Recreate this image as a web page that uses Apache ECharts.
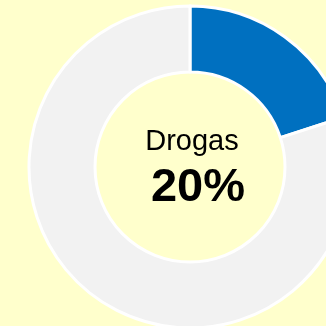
<!DOCTYPE html>
<html><head><meta charset="utf-8">
<script src="https://cdn.jsdelivr.net/npm/echarts@6/dist/echarts.min.js"></script>
<style>html,body{margin:0;padding:0;background:#FFFFCC;}#c{width:326px;height:326px;}</style>
</head><body><div id="c"></div>
<script>
const categories = ['Drogas', 'Resto'];
const values = [20, 80];
const centerLabel = 'Drogas';
const centerValue = '20%';

const chart = echarts.init(document.getElementById('c'), null, {renderer: 'canvas'});
chart.setOption({
  backgroundColor: '#FFFFCC',
  animation: false,
  series: [{
    type: 'pie',
    center: [190, 167],
    radius: [95, 161],
    startAngle: 90,
    clockwise: true,
    label: {show: false},
    labelLine: {show: false},
    emphasis: {disabled: true},
    itemStyle: {borderColor: '#FFFFFF', borderWidth: 3},
    data: categories.map((c, i) => ({name: c, value: values[i], itemStyle: {color: i === 0 ? '#0070C0' : '#F2F2F2'}}))
  }],
  graphic: [
    {type: 'text', x: 192, y: 156, style: {text: centerLabel, align: 'center', verticalAlign: 'bottom', font: '29px "Liberation Sans", Arial, sans-serif', fill: '#000'}},
    {type: 'text', x: 198, y: 212, style: {text: centerValue, align: 'center', verticalAlign: 'bottom', font: 'bold 47px "Liberation Sans", Arial, sans-serif', fill: '#000'}}
  ]
});
</script></body></html>
